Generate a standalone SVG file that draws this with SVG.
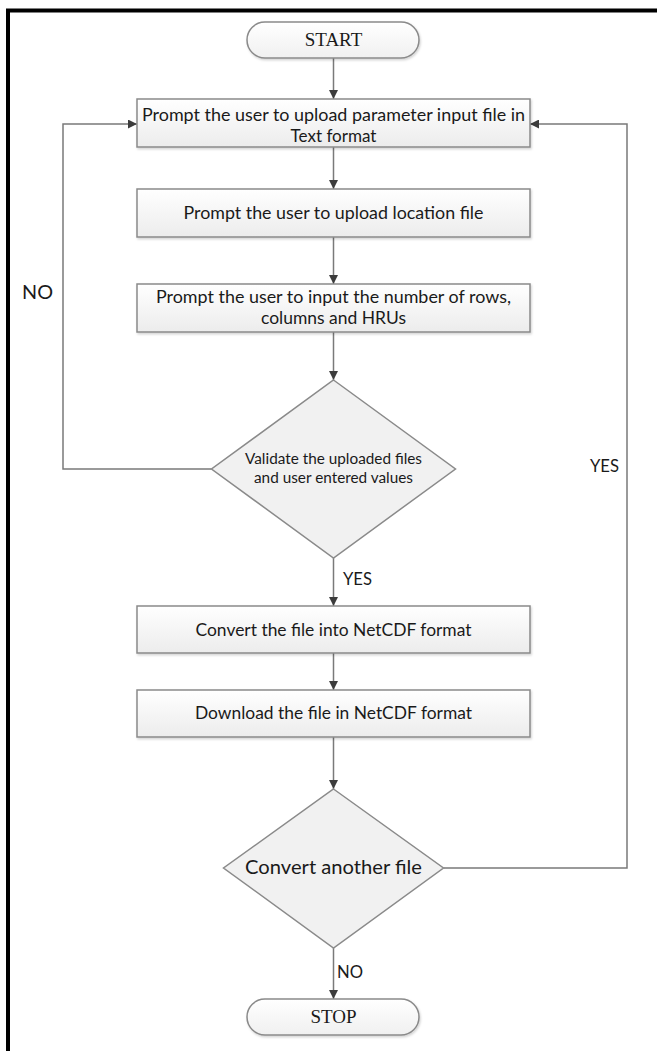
<svg xmlns="http://www.w3.org/2000/svg" width="657" height="1051" viewBox="0 0 657 1051">
  <style>
    .box { fill: url(#boxFill); stroke: #8a8a8a; stroke-width: 1.5; filter: url(#shadow); }
    .pill { fill: url(#pillFill); stroke: #8a8a8a; stroke-width: 1.5; filter: url(#shadow); }
    .dec { fill: #f1f1f1; stroke: #8a8a8a; stroke-width: 1.5; }
    .txt { font-family: Lato, "Liberation Sans", sans-serif; fill: #1a1a1a; text-anchor: middle; }
    .term { font-family: "Liberation Serif", serif; fill: #1a1a1a; text-anchor: middle; font-size: 19px; }
    .lbl { font-family: Lato, "Liberation Sans", sans-serif; fill: #1a1a1a; }
    .conn { fill: none; stroke: #7a7a7a; stroke-width: 1.5; marker-end: url(#arrow); }
  </style>
  <defs>
    <linearGradient id="boxFill" x1="0" y1="0" x2="0" y2="1">
      <stop offset="0" stop-color="#ffffff"/>
      <stop offset="1" stop-color="#ececec"/>
    </linearGradient>
    <linearGradient id="pillFill" x1="0" y1="0" x2="0" y2="1">
      <stop offset="0" stop-color="#ffffff"/>
      <stop offset="1" stop-color="#f0f0f0"/>
    </linearGradient>
    <filter id="shadow" x="-5%" y="-20%" width="110%" height="150%">
      <feDropShadow dx="1" dy="1.5" stdDeviation="0.8" flood-color="#000" flood-opacity="0.18"/>
    </filter>
    <marker id="arrow" viewBox="0 0 10 10" refX="10" refY="5" markerWidth="9" markerHeight="9" markerUnits="userSpaceOnUse" orient="auto">
      <path d="M0,0 L10,5 L0,10 Z" fill="#3c3c3c"/>
    </marker>
  </defs>

  <rect width="657" height="1051" fill="#ffffff"/>
  <!-- page frame: left and top edges -->
  <path d="M8,1051 V10.5 H657" fill="none" stroke="#000" stroke-width="4"/>

  <g id="connectors">
    <path class="conn" d="M333.5,58 V99"/>
    <path class="conn" d="M333.5,147 V189"/>
    <path class="conn" d="M333.5,237 V284"/>
    <path class="conn" d="M333.5,332 V380"/>
    <path class="conn" d="M211.5,469 H63 V124 H137"/>
    <path class="conn" d="M333.5,558 V606"/>
    <path class="conn" d="M333.5,653 V690"/>
    <path class="conn" d="M333.5,737 V789"/>
    <path class="conn" d="M443.5,868 H627 V124 H530"/>
    <path class="conn" d="M333.5,948 V999"/>
    <text class="lbl" x="22" y="299" font-size="20" textLength="31" lengthAdjust="spacingAndGlyphs">NO</text>
    <text class="lbl" x="343" y="585" font-size="18" textLength="29" lengthAdjust="spacingAndGlyphs">YES</text>
    <text class="lbl" x="590" y="472" font-size="18" textLength="29" lengthAdjust="spacingAndGlyphs">YES</text>
    <text class="lbl" x="337" y="978" font-size="18" textLength="26" lengthAdjust="spacingAndGlyphs">NO</text>
  </g>

  <g id="start">
    <rect class="pill" x="247" y="22" width="172" height="36" rx="18"/>
    <text class="term" x="333.5" y="46">START</text>
  </g>

  <g id="upload-parameter">
    <rect class="box" x="137" y="99" width="393" height="48"/>
    <text class="txt" font-size="17" x="333.5" y="121" textLength="383" lengthAdjust="spacingAndGlyphs">Prompt the user to upload parameter input file in</text>
    <text class="txt" font-size="17" x="333.5" y="142" textLength="86" lengthAdjust="spacingAndGlyphs">Text format</text>
  </g>

  <g id="upload-location">
    <rect class="box" x="137" y="189" width="393" height="48"/>
    <text class="txt" font-size="17" x="333.5" y="219" textLength="300" lengthAdjust="spacingAndGlyphs">Prompt the user to upload location file</text>
  </g>

  <g id="input-dimensions">
    <rect class="box" x="137" y="284" width="393" height="48"/>
    <text class="txt" font-size="17" x="333.5" y="303" textLength="355" lengthAdjust="spacingAndGlyphs">Prompt the user to input the number of rows,</text>
    <text class="txt" font-size="17" x="333.5" y="324" textLength="145" lengthAdjust="spacingAndGlyphs">columns and HRUs</text>
  </g>

  <g id="validate">
    <polygon class="dec" points="333.5,380 455.5,469 333.5,558 211.5,469"/>
    <text class="txt" font-size="14.5" x="333.5" y="464" textLength="177" lengthAdjust="spacingAndGlyphs">Validate the uploaded files</text>
    <text class="txt" font-size="14.5" x="333.5" y="483" textLength="159" lengthAdjust="spacingAndGlyphs">and user entered values</text>
  </g>

  <g id="convert">
    <rect class="box" x="137" y="606" width="393" height="47"/>
    <text class="txt" font-size="17" x="333.5" y="636" textLength="276" lengthAdjust="spacingAndGlyphs">Convert the file into NetCDF format</text>
  </g>

  <g id="download">
    <rect class="box" x="137" y="690" width="393" height="47"/>
    <text class="txt" font-size="17" x="333.5" y="719" textLength="277" lengthAdjust="spacingAndGlyphs">Download the file in NetCDF format</text>
  </g>

  <g id="another">
    <polygon class="dec" points="333.5,789 443.5,868 333.5,948 223.5,868"/>
    <text class="txt" font-size="19.5" x="333.5" y="874" textLength="177" lengthAdjust="spacingAndGlyphs">Convert another file</text>
  </g>

  <g id="stop">
    <rect class="pill" x="247" y="999" width="172" height="36" rx="18"/>
    <text class="term" x="333.5" y="1023">STOP</text>
  </g>
</svg>
